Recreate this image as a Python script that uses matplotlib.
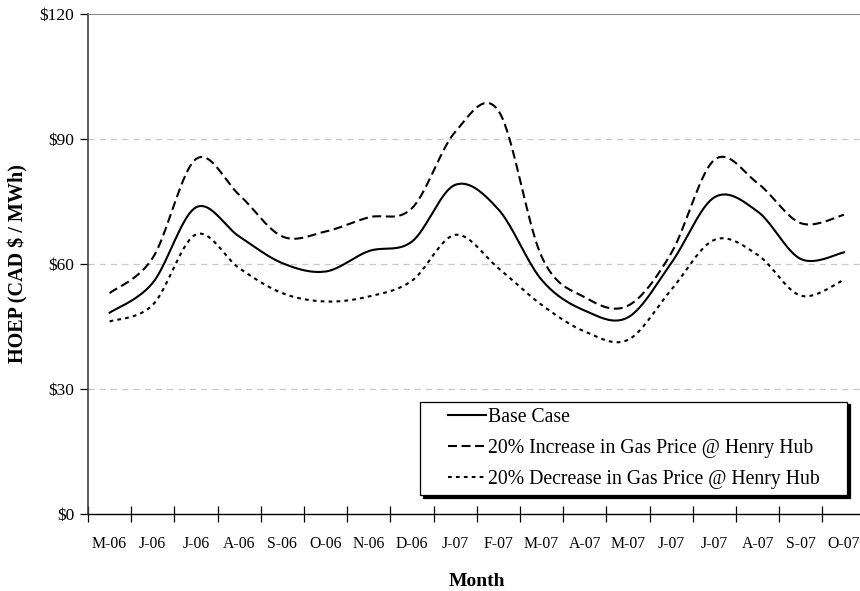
import numpy as np
import matplotlib
matplotlib.use('Agg')
import matplotlib.pyplot as plt
from matplotlib.ticker import FixedLocator, FuncFormatter
from matplotlib.legend_handler import HandlerLine2D

plt.rcParams['font.family'] = ['Liberation Serif', 'DejaVu Serif']

months = ['M-06', 'J-06', 'J-06', 'A-06', 'S-06', 'O-06', 'N-06', 'D-06', 'J-07',
          'F-07', 'M-07', 'A-07', 'M-07', 'J-07', 'J-07', 'A-07', 'S-07', 'O-07']
base_case = [48.3, 55.5, 73.6, 66.6, 60.2, 58.2, 63.1, 65.4, 79.0,
             73.1, 56.2, 48.8, 47.2, 60.2, 76.0, 72.6, 61.2, 62.8]
gas_up = [53.0, 61.5, 85.2, 76.6, 66.6, 67.8, 71.2, 73.4, 91.7,
          96.8, 61.8, 52.0, 50.0, 62.6, 85.0, 79.4, 69.8, 71.8]
gas_down = [46.2, 50.2, 67.1, 59.0, 53.0, 51.0, 52.2, 56.0, 67.0,
            59.0, 50.2, 43.8, 41.8, 53.8, 65.8, 62.2, 52.4, 56.2]


def smooth(x, y, n=20):
    # excel style smoothed line (catmull-rom as bezier)
    x = np.asarray(x, float)
    y = np.asarray(y, float)
    px = np.concatenate([[x[0]], x, [x[-1]]])
    py = np.concatenate([[y[0]], y, [y[-1]]])
    t = np.linspace(0, 1, n, endpoint=False)
    xs, ys = [], []
    for i in range(1, len(px) - 2):
        b0 = np.array([px[i], py[i]])
        b3 = np.array([px[i + 1], py[i + 1]])
        b1 = b0 + (np.array([px[i + 1], py[i + 1]]) - np.array([px[i - 1], py[i - 1]])) / 6
        b2 = b3 - (np.array([px[i + 2], py[i + 2]]) - np.array([px[i], py[i]])) / 6
        for tt in t:
            p = ((1 - tt) ** 3 * b0 + 3 * (1 - tt) ** 2 * tt * b1
                 + 3 * (1 - tt) * tt ** 2 * b2 + tt ** 3 * b3)
            xs.append(p[0])
            ys.append(p[1])
    xs.append(x[-1])
    ys.append(y[-1])
    return np.array(xs), np.array(ys)


class PadHandler(HandlerLine2D):
    # leave some empty room left of the legend line
    def create_artists(self, legend, orig_handle, xdescent, ydescent, width, height, fontsize, trans):
        pad = 15.5
        return super().create_artists(legend, orig_handle, xdescent - pad, ydescent,
                                      width - pad, height, fontsize, trans)


fig = plt.figure(figsize=(8.6, 5.91), dpi=100)
ax = fig.add_axes([88 / 860, 77 / 591, 777.6 / 860, 500 / 591])

xpos = np.arange(len(months))
lw = 1.5
xs, ys = smooth(xpos, base_case)
l1, = ax.plot(xs, ys, color='black', lw=lw, label='Base Case')
xs, ys = smooth(xpos, gas_up)
l2, = ax.plot(xs, ys, color='black', lw=lw, dashes=(4.3, 2.2),
              label='20% Increase in Gas Price @ Henry Hub')
xs, ys = smooth(xpos, gas_down)
l3, = ax.plot(xs, ys, color='black', lw=lw, dashes=(1.8, 2.0),
              label='20% Decrease in Gas Price @ Henry Hub')

ax.set_xlim(-0.5, len(months) - 0.5)
ax.set_ylim(0, 120)
ax.set_yticks([0, 30, 60, 90, 120])
ax.yaxis.set_major_formatter(FuncFormatter(lambda v, p: '${:.0f}'.format(v)))
for g in [30, 60, 90]:
    ax.axhline(g, color='#c8c8c8', lw=0.9, dashes=(5, 4), zorder=0)

ax.set_xticks(xpos)
ax.set_xticklabels(months)
ax.xaxis.set_minor_locator(FixedLocator(np.arange(-0.5, len(months), 1)))
ax.tick_params(axis='x', which='major', length=0, pad=16, labelsize=11.3)
ax.tick_params(axis='x', which='minor', length=11, direction='inout', width=0.9)
ax.tick_params(axis='y', length=6, width=0.9, labelsize=12.5, pad=4)

for s in ['top', 'right']:
    ax.spines[s].set_color('#8c8c8c')
ax.spines['left'].set_color('#404040')
ax.spines['left'].set_linewidth(1.2)
ax.spines['bottom'].set_linewidth(1.0)

ax.set_ylabel('HOEP (CAD $ / MWh)', fontweight='bold', fontsize=14.5, labelpad=8)
ax.set_xlabel('Month', fontweight='bold', fontsize=14, labelpad=15)

leg = ax.legend(handles=[l1, l2, l3], loc='lower left',
                bbox_to_anchor=(0.4275, 0.038, 0.549, 0.176),
                mode='expand', fancybox=False, edgecolor='black', fontsize=14.2,
                handlelength=3.0, handletextpad=0.15, borderpad=0.3,
                labelspacing=0.62, borderaxespad=0,
                handler_map={l1: PadHandler(), l2: PadHandler(), l3: PadHandler()},
                shadow={'color': 'black', 'alpha': 1})
leg.get_frame().set_linewidth(0.9)

fig.savefig('out.png', dpi=100)
